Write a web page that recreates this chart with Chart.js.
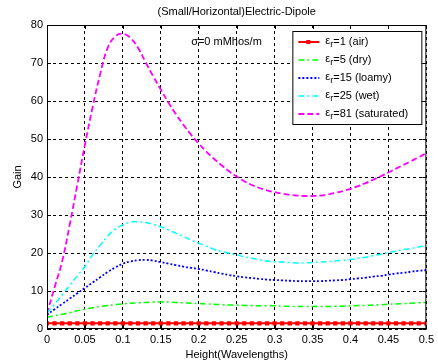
<!DOCTYPE html>
<html>
<head>
<meta charset="utf-8">
<script src="https://cdn.jsdelivr.net/npm/chart.js@4/dist/chart.umd.min.js"></script>
<style>
  html, body { margin: 0; padding: 0; background: #fff; }
  #wrap { width: 438px; height: 364px; }
</style>
</head>
<body>
<div id="wrap"><canvas id="chart" width="438" height="364"></canvas></div>
<script>
// height above ground, in wavelengths
const heights = [0, 0.01, 0.02, 0.03, 0.04, 0.05, 0.06, 0.07, 0.08, 0.09,
  0.10, 0.11, 0.12, 0.13, 0.14, 0.15, 0.16, 0.17, 0.18, 0.19,
  0.20, 0.21, 0.22, 0.23, 0.24, 0.25, 0.26, 0.27, 0.28, 0.29,
  0.30, 0.31, 0.32, 0.33, 0.34, 0.35, 0.36, 0.37, 0.38, 0.39,
  0.40, 0.41, 0.42, 0.43, 0.44, 0.45, 0.46, 0.47, 0.48, 0.49, 0.50];

const gainAir = [1.5, 1.5, 1.5, 1.5, 1.5, 1.5, 1.5, 1.5, 1.5, 1.5,
  1.5, 1.5, 1.5, 1.5, 1.5, 1.5, 1.5, 1.5, 1.5, 1.5,
  1.5, 1.5, 1.5, 1.5, 1.5, 1.5, 1.5, 1.5, 1.5, 1.5,
  1.5, 1.5, 1.5, 1.5, 1.5, 1.5, 1.5, 1.5, 1.5, 1.5,
  1.5, 1.5, 1.5, 1.5, 1.5, 1.5, 1.5, 1.5, 1.5, 1.5, 1.5];

const gainDry = [3.1, 3.5, 3.9, 4.3, 4.8, 5.2, 5.6, 5.9, 6.2, 6.4,
  6.6, 6.8, 6.9, 7.0, 7.1, 7.1, 7.1, 7.0, 6.9, 6.8,
  6.7, 6.6, 6.5, 6.4, 6.3, 6.3, 6.2, 6.2, 6.1, 6.1,
  6.1, 6.0, 6.0, 5.9, 5.9, 5.9, 5.9, 5.9, 6.0, 6.0,
  6.1, 6.2, 6.2, 6.3, 6.4, 6.5, 6.6, 6.7, 6.8, 6.9, 7.0];

const gainLoamy = [3.7, 5.2, 6.6, 8.0, 9.4, 10.8, 12.2, 13.6, 15.0, 16.2,
  17.2, 17.8, 18.1, 18.2, 18.0, 17.6, 17.2, 16.8, 16.4, 16.1,
  15.8, 15.4, 15.0, 14.6, 14.2, 13.9, 13.6, 13.4, 13.2, 13.0,
  12.9, 12.8, 12.7, 12.6, 12.6, 12.6, 12.6, 12.7, 12.8, 12.9,
  13.1, 13.3, 13.5, 13.8, 14.0, 14.3, 14.6, 14.8, 15.1, 15.3, 15.5];

const gainWet = [4.2, 6.5, 9.0, 11.5, 14.0, 16.5, 19.5, 22.0, 24.5, 26.3,
  27.4, 28.1, 28.2, 28.0, 27.5, 26.9, 26.1, 25.2, 24.3, 23.4,
  22.6, 21.8, 21.0, 20.4, 19.9, 19.5, 19.0, 18.6, 18.2, 17.9,
  17.7, 17.6, 17.5, 17.4, 17.4, 17.5, 17.6, 17.7, 17.9, 18.1,
  18.3, 18.6, 18.9, 19.3, 19.7, 20.1, 20.5, 20.9, 21.2, 21.6, 21.9];

const gainSaturated = [4.0, 11.0, 17.8, 27.5, 38.0, 48.5, 58.3, 67.0, 74.0, 77.0,
  77.7, 76.6, 74.0, 70.2, 66.5, 63.0, 59.6, 56.5, 53.7, 51.1,
  48.8, 46.7, 44.8, 43.1, 41.5, 40.1, 38.9, 37.9, 37.1, 36.5,
  36.0, 35.6, 35.3, 35.1, 35.0, 35.0, 35.1, 35.4, 35.8, 36.3,
  36.9, 37.6, 38.4, 39.3, 40.2, 41.2, 42.2, 43.2, 44.2, 45.2, 46.3];

const legendText = ['=1 (air)', '=5 (dry)', '=15 (loamy)', '=25 (wet)', '=81 (saturated)'];
const xTickValues = [0, 0.05, 0.1, 0.15, 0.2, 0.25, 0.3, 0.35, 0.4, 0.45, 0.5];
const xTickLabels = ['0', '0.05', '0.1', '0.15', '0.2', '0.25', '0.3', '0.35', '0.4', '0.45', '0.5'];
const yTickValues = [0, 10, 20, 30, 40, 50, 60, 70, 80];

const FONT = "'Liberation Sans', Arial, sans-serif";

const series = [
  { data: gainAir, color: '#ff0000', dash: [], width: 2, marker: true },
  { data: gainDry, color: '#00ff00', dash: [6, 3, 2, 3], width: 1.5 },
  { data: gainLoamy, color: '#0000ff', dash: [2, 2], width: 1.8 },
  { data: gainWet, color: '#00ffff', dash: [6, 3, 2, 3], width: 1.5 },
  { data: gainSaturated, color: '#ff00ff', dash: [6, 3], width: 1.8 }
];

const datasets = series.map((s, i) => ({
  label: '\u03b5r' + legendText[i],
  data: s.data.map((v, k) => ({ x: heights[k], y: v })),
  borderColor: s.color,
  backgroundColor: s.color,
  borderWidth: s.width,
  borderDash: s.dash,
  pointStyle: 'rect',
  pointRadius: s.marker ? 3 : 0,
  pointBorderWidth: 0,
  tension: 0.4,
  fill: false
}));

// MATLAB-style frame, ticks, titles, note and legend
const matlabDecor = {
  id: 'matlabDecor',
  afterDraw(chart) {
    const { ctx, chartArea: a, scales } = chart;
    const xs = scales.x, ys = scales.y;
    ctx.save();

    // box
    ctx.strokeStyle = '#000';
    ctx.lineWidth = 1;
    ctx.setLineDash([]);
    ctx.strokeRect(a.left + 0.5, a.top + 0.5, a.right - a.left - 1, a.bottom - a.top - 1);

    // inward ticks on all four sides
    ctx.beginPath();
    xTickValues.forEach(v => {
      const px = Math.round(xs.getPixelForValue(v)) + 0.5;
      ctx.moveTo(px, a.bottom); ctx.lineTo(px, a.bottom - 4);
      ctx.moveTo(px, a.top); ctx.lineTo(px, a.top + 4);
    });
    yTickValues.forEach(v => {
      const py = Math.round(ys.getPixelForValue(v)) + 0.5;
      ctx.moveTo(a.left, py); ctx.lineTo(a.left + 4, py);
      ctx.moveTo(a.right, py); ctx.lineTo(a.right - 4, py);
    });
    ctx.stroke();

    ctx.fillStyle = '#000';
    ctx.font = '11px ' + FONT;
    ctx.textAlign = 'center';
    ctx.textBaseline = 'middle';
    const cx = (a.left + a.right) / 2;
    ctx.fillText('(Small/Horizontal)Electric-Dipole', cx, 12);
    ctx.fillText('Height(Wavelengths)', cx, 355);
    ctx.save();
    ctx.translate(18, (a.top + a.bottom) / 2);
    ctx.rotate(-Math.PI / 2);
    ctx.fillText('Gain', 0, 0);
    ctx.restore();

    // conductivity note
    ctx.textAlign = 'left';
    ctx.fillText('\u03c3=0 mMhos/m', xs.getPixelForValue(0.19), ys.getPixelForValue(75.5));

    // legend
    const lx = a.right - 134, ly = a.top + 6, lw = 129, lh = 93;
    ctx.fillStyle = '#fff';
    ctx.fillRect(lx, ly, lw, lh);
    ctx.strokeStyle = '#000';
    ctx.strokeRect(lx + 0.5, ly + 0.5, lw, lh);
    series.forEach((s, i) => {
      const y = ly + 11 + i * 18;
      ctx.strokeStyle = s.color;
      ctx.lineWidth = s.width;
      ctx.setLineDash(s.dash);
      ctx.beginPath();
      ctx.moveTo(lx + 6, y);
      ctx.lineTo(lx + 27, y);
      ctx.stroke();
      ctx.setLineDash([]);
      if (s.marker) {
        ctx.fillStyle = s.color;
        ctx.fillRect(lx + 14, y - 2, 4, 4);
      }
      ctx.fillStyle = '#000';
      ctx.font = '11px ' + FONT;
      let tx = lx + 33;
      ctx.fillText('\u03b5', tx, y - 1);
      tx += ctx.measureText('\u03b5').width;
      ctx.font = '9px ' + FONT;
      ctx.fillText('r', tx, y + 3);
      tx += ctx.measureText('r').width;
      ctx.font = '11px ' + FONT;
      ctx.fillText(legendText[i], tx, y);
    });
    ctx.restore();
  }
};

new Chart(document.getElementById('chart'), {
  type: 'line',
  data: { datasets },
  options: {
    responsive: false,
    animation: false,
    devicePixelRatio: 1,
    layout: { padding: { top: 25, right: 8, left: 0, bottom: 0 } },
    plugins: { legend: { display: false }, tooltip: { enabled: false } },
    scales: {
      x: {
        type: 'linear',
        min: 0, max: 0.5,
        afterBuildTicks: s => { s.ticks = xTickValues.map(v => ({ value: v })); },
        afterFit: s => { s.height = 35; },
        grid: { color: '#000', lineWidth: 1, drawTicks: false },
        border: { display: false, dash: [3, 3] },
        ticks: {
          autoSkip: false, maxRotation: 0, padding: 4, color: '#000',
          font: { family: FONT, size: 11 },
          callback: (v, i) => xTickLabels[i]
        }
      },
      y: {
        type: 'linear',
        min: 0, max: 80,
        afterBuildTicks: s => { s.ticks = yTickValues.map(v => ({ value: v })); },
        afterFit: s => { s.width = 47; },
        grid: { color: '#000', lineWidth: 1, drawTicks: false },
        border: { display: false, dash: [3, 3] },
        ticks: {
          padding: 4, color: '#000',
          font: { family: FONT, size: 11 },
          callback: v => String(v)
        }
      }
    }
  },
  plugins: [matlabDecor]
});
</script>
</body>
</html>
